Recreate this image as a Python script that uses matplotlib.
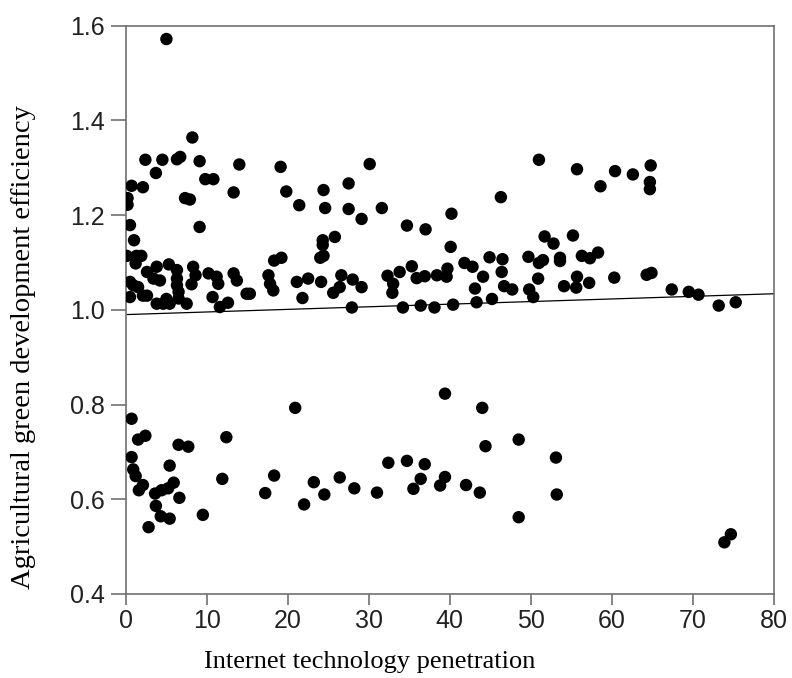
import numpy as np
import matplotlib
matplotlib.use("Agg")
import matplotlib.pyplot as plt

# internet technology penetration (x) vs agricultural green development efficiency (y)
x_upper = [5.0, 8.2, 2.4, 4.5, 6.3, 6.7, 9.1, 14.0, 19.1, 3.7, 0.7, 2.1, 9.8, 10.8,
           19.8, 13.3, 21.4, 0.2, 0.2, 7.3, 7.9, 9.1, 0.5, 1.0, 0.1, 1.3, 1.9, 1.2,
           18.3, 19.2, 5.3, 8.3, 3.8, 2.6, 3.4, 4.2, 6.3, 6.3, 8.6, 10.2, 11.4, 11.2,
           13.3, 13.7, 17.6, 17.8, 18.2, 21.1, 22.5, 0.5, 0.9, 1.5, 0.5, 2.1, 2.6,
           6.3, 6.5, 6.5, 3.8, 4.6, 5.4, 5.0, 7.5, 8.1, 10.7, 11.6, 12.6, 15.3, 14.9,
           21.8]
y_upper = [1.572, 1.364, 1.317, 1.317, 1.318, 1.323, 1.314, 1.307, 1.302, 1.289,
           1.262, 1.259, 1.276, 1.276, 1.250, 1.248, 1.221, 1.236, 1.222, 1.236,
           1.233, 1.175, 1.179, 1.147, 1.114, 1.114, 1.114, 1.098, 1.104, 1.110,
           1.096, 1.091, 1.091, 1.080, 1.066, 1.062, 1.084, 1.066, 1.073, 1.077,
           1.055, 1.070, 1.077, 1.062, 1.073, 1.055, 1.041, 1.059, 1.066, 1.059,
           1.052, 1.048, 1.027, 1.030, 1.030, 1.052, 1.038, 1.024, 1.013, 1.013,
           1.013, 1.023, 1.013, 1.054, 1.027, 1.006, 1.015, 1.034, 1.034, 1.025]

x_mid = [30.1, 27.5, 24.4, 24.6, 27.5, 31.6, 29.1, 34.7, 37.0, 40.2, 40.1, 25.8,
         24.3, 24.3, 24.0, 24.4, 24.1, 26.6, 26.4, 25.6, 28.0, 29.1, 27.9, 32.3,
         33.0, 32.9, 33.8, 35.3, 35.9, 36.9, 38.4, 39.6, 39.7, 34.2, 36.4, 38.1,
         40.4, 41.8, 42.8, 44.1, 43.1, 43.3, 45.2, 44.9]
y_mid = [1.308, 1.267, 1.253, 1.215, 1.213, 1.215, 1.192, 1.178, 1.170, 1.203,
         1.133, 1.154, 1.147, 1.137, 1.110, 1.114, 1.059, 1.073, 1.048, 1.036,
         1.064, 1.048, 1.005, 1.072, 1.055, 1.036, 1.080, 1.092, 1.067, 1.071,
         1.073, 1.070, 1.087, 1.005, 1.009, 1.005, 1.011, 1.099, 1.091, 1.070,
         1.045, 1.016, 1.023, 1.111]

x_right = [51.0, 55.7, 60.4, 62.6, 64.8, 64.7, 64.7, 58.6, 46.3, 51.7, 52.8, 55.2,
           46.5, 49.7, 51.0, 51.5, 53.6, 53.6, 56.3, 57.3, 58.3, 46.4, 50.9, 55.7,
           60.3, 64.3, 64.9, 46.7, 47.7, 49.8, 50.3, 54.1, 55.6, 57.2, 67.4, 69.5,
           70.7, 73.2, 75.3]
y_right = [1.317, 1.297, 1.293, 1.286, 1.305, 1.270, 1.255, 1.261, 1.238, 1.155,
           1.140, 1.157, 1.107, 1.112, 1.099, 1.105, 1.110, 1.103, 1.114, 1.109,
           1.121, 1.080, 1.066, 1.070, 1.068, 1.074, 1.078, 1.050, 1.043, 1.043,
           1.027, 1.050, 1.047, 1.057, 1.043, 1.038, 1.032, 1.009, 1.016]

x_lower = [0.7, 1.5, 2.4, 0.7, 0.9, 1.2, 1.6, 2.1, 5.4, 5.9, 5.2, 4.4, 3.6, 6.5,
           7.7, 6.6, 3.7, 4.3, 5.4, 2.8, 9.5, 12.4, 11.9, 17.2, 18.3, 20.9, 22.0,
           23.2, 24.5, 26.4, 28.2, 31.0, 32.4, 34.7, 35.5, 36.9, 36.4, 38.8, 39.4,
           39.4, 44.0, 42.0, 43.7, 44.4, 48.5, 48.5, 53.1, 53.2, 73.9, 74.7]
y_lower = [0.770, 0.726, 0.734, 0.689, 0.663, 0.649, 0.619, 0.630, 0.671, 0.635,
           0.623, 0.619, 0.612, 0.715, 0.711, 0.603, 0.586, 0.564, 0.559, 0.541,
           0.567, 0.731, 0.643, 0.613, 0.650, 0.793, 0.589, 0.636, 0.610, 0.646,
           0.623, 0.614, 0.677, 0.681, 0.622, 0.674, 0.643, 0.629, 0.647, 0.823,
           0.793, 0.630, 0.614, 0.712, 0.726, 0.562, 0.688, 0.610, 0.509, 0.526]

fit_intercept = 0.990
fit_slope = 0.00055

x = np.array(x_upper + x_mid + x_right + x_lower)
y = np.array(y_upper + y_mid + y_right + y_lower)

fig = plt.figure(figsize=(7.92, 6.78), dpi=100)
ax = fig.add_axes([0.159, 0.124, 0.818, 0.838])

ax.scatter(x, y, s=80, color="black", edgecolors="none", zorder=3)
xl = np.array([0, 80])
ax.plot(xl, fit_intercept + fit_slope * xl, color="black", lw=0.9, zorder=2)

ax.set_xlim(0, 80)
ax.set_ylim(0.4, 1.6)
ax.set_xticks(np.arange(0, 81, 10))
ax.set_yticks([0.4, 0.6, 0.8, 1.0, 1.2, 1.4, 1.6])
ax.set_yticklabels(["0.4", "0.6", "0.8", "1.0", "1.2", "1.4", "1.6"])

for sp in ax.spines.values():
    sp.set_color("#707070")
    sp.set_linewidth(1.2)

ax.tick_params(direction="out", width=1.2, color="#707070", labelsize=18)
ax.tick_params(axis="x", length=8, pad=3)
ax.tick_params(axis="y", length=11, pad=4)
for lab in ax.get_xticklabels() + ax.get_yticklabels():
    lab.set_fontfamily("Liberation Sans")
    lab.set_color("#222222")

ax.set_xlabel("Internet technology penetration", fontfamily="Liberation Serif",
              fontsize=19)
ax.set_ylabel("Agricultural green development efficiency",
              fontfamily="Liberation Serif", fontsize=20.5)
ax.xaxis.set_label_coords(0.377, -0.1)
ax.yaxis.set_label_coords(-0.139, 0.435)

fig.savefig("out.png", dpi=100)
